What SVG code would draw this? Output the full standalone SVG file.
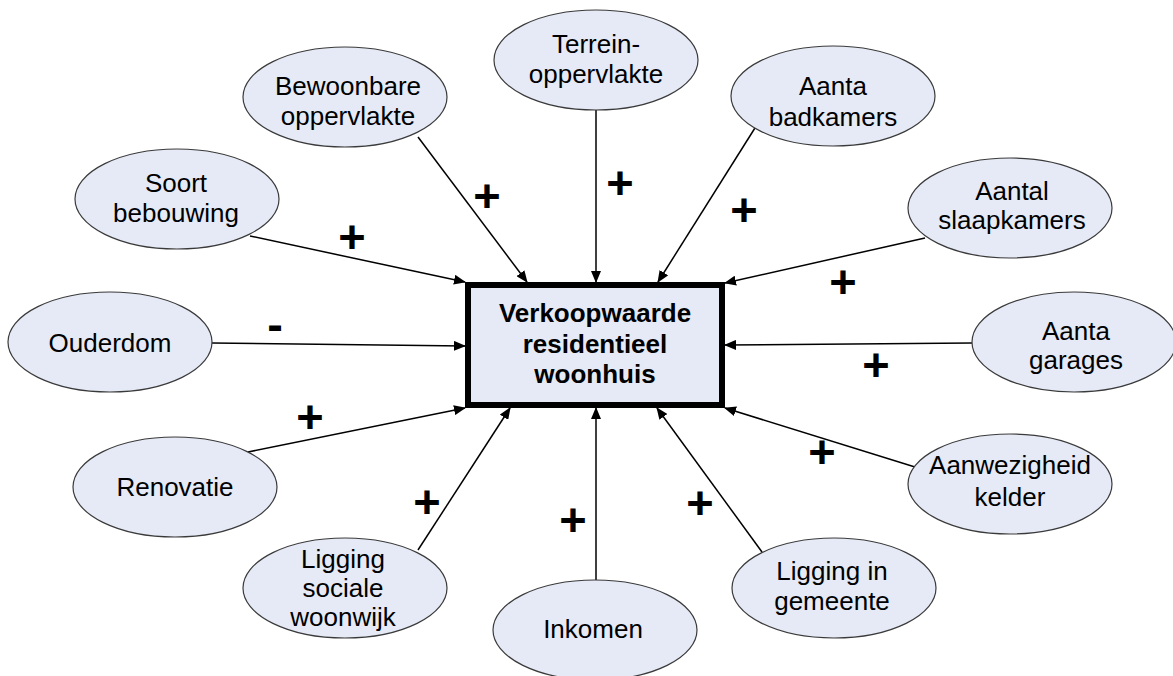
<svg xmlns="http://www.w3.org/2000/svg" width="1173" height="676" viewBox="0 0 1173 676">
<style>
.n ellipse{fill:#e5eaf6;stroke:#3a3a3a;stroke-width:1.2}
.t{font-family:"Liberation Sans",Arial,sans-serif;font-size:26px;fill:#000;text-anchor:middle}
.b{font-weight:bold}
.s{font-family:"Liberation Sans",Arial,sans-serif;font-size:47px;font-weight:bold;fill:#000;text-anchor:middle}
.c line{stroke:#000;stroke-width:1.5;marker-end:url(#ah)}
</style>
<defs>
<marker id="ah" markerWidth="12" markerHeight="10" refX="11" refY="5" orient="auto" markerUnits="userSpaceOnUse">
<path d="M0,0 L12,5 L0,10 Z" fill="#000"/>
</marker>
</defs>
<rect width="1173" height="676" fill="#fff"/>
<g class="c" id="connectors">
<line x1="596" y1="110" x2="596" y2="282"/>
<line x1="418" y1="137" x2="527" y2="282"/>
<line x1="250" y1="236" x2="465" y2="282"/>
<line x1="760" y1="120" x2="658" y2="282"/>
<line x1="925" y1="238" x2="725" y2="283"/>
<line x1="212" y1="343" x2="465" y2="346"/>
<line x1="972" y1="343" x2="725" y2="345"/>
<line x1="915" y1="467" x2="725" y2="408"/>
<line x1="248" y1="452" x2="465" y2="408"/>
<line x1="418" y1="550" x2="510" y2="408"/>
<line x1="596" y1="580" x2="596" y2="408"/>
<line x1="762" y1="552" x2="657" y2="408"/>
</g>
<g id="center">
<rect x="468" y="285" width="254" height="120" fill="#e5eaf6" stroke="#000" stroke-width="6"/>
<text class="t b" x="595" y="322">Verkoopwaarde</text>
<text class="t b" x="595" y="353">residentieel</text>
<text class="t b" x="595" y="383">woonhuis</text>
</g>
<g class="n" id="terrein">
<ellipse cx="596" cy="60" rx="102" ry="50"/>
<text class="t" x="596" y="53">Terrein-</text>
<text class="t" x="596" y="83">oppervlakte</text>
</g>
<g class="n" id="bewoonbare">
<ellipse cx="345" cy="97" rx="102" ry="50"/>
<text class="t" x="348" y="95">Bewoonbare</text>
<text class="t" x="348" y="125">oppervlakte</text>
</g>
<g class="n" id="soort">
<ellipse cx="177" cy="199" rx="102" ry="50"/>
<text class="t" x="176" y="192">Soort</text>
<text class="t" x="176" y="222">bebouwing</text>
</g>
<g class="n" id="badkamers">
<ellipse cx="833" cy="96" rx="102" ry="50"/>
<text class="t" x="833" y="95">Aanta</text>
<text class="t" x="833" y="126">badkamers</text>
</g>
<g class="n" id="slaapkamers">
<ellipse cx="1010" cy="208" rx="102" ry="50"/>
<text class="t" x="1012" y="200">Aantal</text>
<text class="t" x="1012" y="229">slaapkamers</text>
</g>
<g class="n" id="ouderdom">
<ellipse cx="110" cy="342" rx="102" ry="50"/>
<text class="t" x="110" y="352">Ouderdom</text>
</g>
<g class="n" id="garages">
<ellipse cx="1074" cy="342" rx="102" ry="50"/>
<text class="t" x="1076" y="340">Aanta</text>
<text class="t" x="1076" y="369">garages</text>
</g>
<g class="n" id="kelder">
<ellipse cx="1010" cy="484" rx="102" ry="50"/>
<text class="t" x="1010" y="474">Aanwezigheid</text>
<text class="t" x="1010" y="506">kelder</text>
</g>
<g class="n" id="renovatie">
<ellipse cx="175" cy="487" rx="102" ry="50"/>
<text class="t" x="175" y="496">Renovatie</text>
</g>
<g class="n" id="sociale">
<ellipse cx="345" cy="588" rx="102" ry="50"/>
<text class="t" x="343" y="568">Ligging</text>
<text class="t" x="343" y="597">sociale</text>
<text class="t" x="343" y="626">woonwijk</text>
</g>
<g class="n" id="inkomen">
<ellipse cx="595" cy="630" rx="102" ry="50"/>
<text class="t" x="593" y="638">Inkomen</text>
</g>
<g class="n" id="gemeente">
<ellipse cx="834" cy="588" rx="102" ry="50"/>
<text class="t" x="832" y="580">Ligging in</text>
<text class="t" x="832" y="610">gemeente</text>
</g>
<g id="signs">
<text class="s" x="487" y="212">+</text>
<text class="s" x="620" y="199">+</text>
<text class="s" x="744" y="226">+</text>
<text class="s" x="352" y="253">+</text>
<text class="s" x="843" y="298">+</text>
<text class="s" x="275" y="340">-</text>
<text class="s" x="876" y="381">+</text>
<text class="s" x="310" y="433">+</text>
<text class="s" x="822" y="468">+</text>
<text class="s" x="427" y="518">+</text>
<text class="s" x="573" y="536">+</text>
<text class="s" x="700" y="519">+</text>
</g>
</svg>
